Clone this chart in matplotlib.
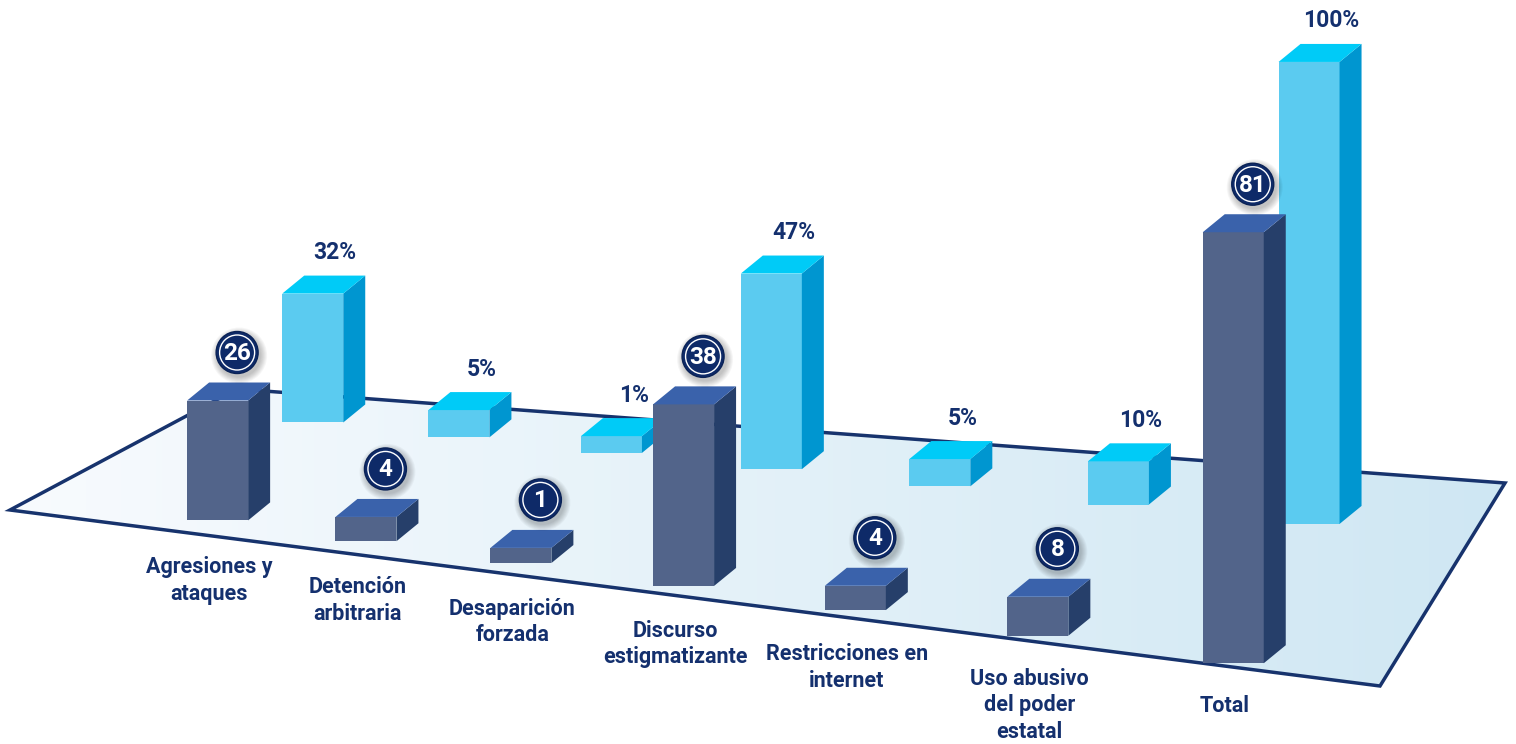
import numpy as np
import matplotlib
matplotlib.use("Agg")
from matplotlib import pyplot as plt
from matplotlib.patches import Polygon, Circle
from matplotlib.colors import LinearSegmentedColormap

plt.rcParams['font.family'] = ['Roboto', 'DejaVu Sans']

# DATA
categories = ["Agresiones y\nataques", "Detención\narbitraria", "Desaparición\nforzada",
              "Discurso\nestigmatizante", "Restricciones en\ninternet",
              "Uso abusivo\ndel poder\nestatal", "Total"]
counts = [26, 4, 1, 38, 4, 8, 81]
percents = [32, 5, 1, 47, 5, 10, 100]
pct_labels = ["%d%%" % p for p in percents]

# colours
NAVY = "#14306e"
DARK_FRONT, DARK_SIDE, DARK_TOP = "#52648a", "#263f6a", "#3a62ab"
LIGHT_FRONT, LIGHT_SIDE, LIGHT_TOP = "#5bcbf0", "#0096d0", "#00cbf7"

# floor plane in pixels: front-left, front-right, back-right, back-left
FL, FR, BR, BL = (10, 510), (1380, 686), (1505, 483), (237, 389)


def homography(p0, p1, p2, p3):
    # unit square -> quad (Heckbert)
    x0, y0 = p0; x1, y1 = p1; x2, y2 = p2; x3, y3 = p3
    sx = x0 - x1 + x2 - x3
    sy = y0 - y1 + y2 - y3
    dx1, dy1 = x1 - x2, y1 - y2
    dx2, dy2 = x3 - x2, y3 - y2
    den = dx1 * dy2 - dx2 * dy1
    g = (sx * dy2 - dx2 * sy) / den
    h = (dx1 * sy - sx * dy1) / den
    return np.array([[x1 - x0 + g * x1, x3 - x0 + h * x3, x0],
                     [y1 - y0 + g * y1, y3 - y0 + h * y3, y0],
                     [g, h, 1.0]])


H = homography(FL, FR, BR, BL)


def plane(s, t):
    v = H @ np.array([s, t, 1.0])
    return np.array([v[0] / v[2], v[1] / v[2]])


def row_anchors(s0, s1, t0, t1, n, persp=0.5):
    # mix of true perspective and even spacing along the row
    s = np.linspace(s0, s1, n)
    t = np.linspace(t0, t1, n)
    p = np.array([plane(a, b) for a, b in zip(s, t)])
    lin = np.linspace(p[0], p[-1], n)
    return persp * p + (1 - persp) * lin


def bar_height(v, vmax, hmax, h0=13, k=1.2):
    return h0 + (hmax - h0) * (v / vmax) ** k


BAR_W = 61
DX, DY = 22, -18


def draw_bar(ax, x0, yb, h, front, side, top):
    yt = yb - h
    ax.add_patch(Polygon([(x0, yb), (x0, yt), (x0 + BAR_W, yt), (x0 + BAR_W, yb)],
                         closed=True, fc=front, ec='none', zorder=3))
    ax.add_patch(Polygon([(x0 + BAR_W, yb), (x0 + BAR_W, yt), (x0 + BAR_W + DX, yt + DY),
                          (x0 + BAR_W + DX, yb + DY)], closed=True, fc=side, ec='none', zorder=3))
    ax.add_patch(Polygon([(x0, yt), (x0 + DX, yt + DY), (x0 + BAR_W + DX, yt + DY),
                          (x0 + BAR_W, yt)], closed=True, fc=top, ec='none', zorder=3))
    return yt + DY


fig = plt.figure(figsize=(15.16, 7.44), dpi=100)
ax = fig.add_axes([0, 0, 1, 1])

# floor
floor = Polygon([FL, FR, BR, BL], closed=True, fc='none', ec='#17336d', lw=2.5, zorder=2)
ax.add_patch(floor)
cmap = LinearSegmentedColormap.from_list('floor', ['#f8fbfe', '#cfe7f3'])
im = ax.imshow(np.linspace(0, 1, 256)[None, :], cmap=cmap, aspect='auto',
               extent=(FL[0], BR[0], FR[1], BL[1]), zorder=1)
im.set_clip_path(floor)

n = len(categories)

# back row: percentages
back = row_anchors(0.103, 0.896, 0.77, 0.68, n)
for i in range(n):
    x0, yb = back[i]
    h = bar_height(percents[i], 100, 462, h0=15)
    ytop = draw_bar(ax, x0, yb, h, LIGHT_FRONT, LIGHT_SIDE, LIGHT_TOP)
    ax.text(x0 + 53, ytop - 23, pct_labels[i], ha='center', va='center',
            fontsize=16.5, fontweight='bold', color=NAVY, zorder=6)

# front row: counts
front = row_anchors(0.169, 0.912, 0.07, 0.0, n)
for i in range(n):
    x0, yb = front[i]
    h = bar_height(counts[i], 81, 431)
    ytop = draw_bar(ax, x0, yb, h, DARK_FRONT, DARK_SIDE, DARK_TOP)
    cx, cy = x0 + 50, ytop - 30
    for k in range(7):
        ax.add_patch(Circle((cx + 2, cy + 3), 21 + 7 - k, fc='black', ec='none',
                            alpha=0.035, zorder=5))
    ax.add_patch(Circle((cx, cy), 21, fc='#0e2a68', ec='#0a2256', lw=1, zorder=6))
    ax.add_patch(Circle((cx, cy), 17.5, fill=False, ec='white', lw=1.0, zorder=7))
    ax.text(cx, cy + 1, str(counts[i]), ha='center', va='center', fontsize=17.5,
            fontweight='bold', color='white', zorder=8)

    # category label under the front edge
    lx = x0 + 22
    edge_y = FL[1] + (lx - FL[0]) * (FR[1] - FL[1]) / (FR[0] - FL[0])
    ax.text(lx, edge_y + 19 + 0.008 * lx, categories[i], ha='center', va='top',
            fontsize=15.5, fontweight='bold', color=NAVY, linespacing=1.25, zorder=6)

ax.set_xlim(0, 1516)
ax.set_ylim(744, 0)
ax.axis('off')

fig.savefig('out.png', dpi=100)
